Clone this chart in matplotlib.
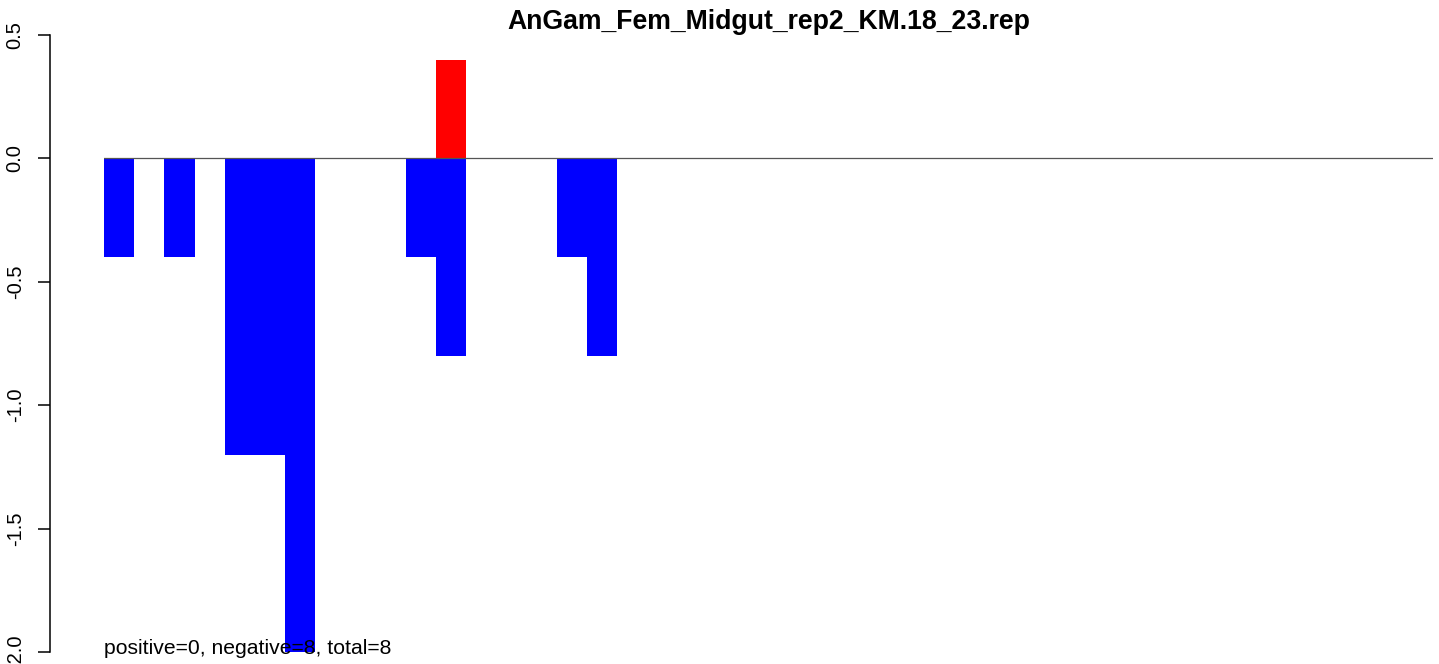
import numpy as np
import matplotlib
matplotlib.use('Agg')
import matplotlib.pyplot as plt

title = "AnGam_Fem_Midgut_rep2_KM.18_23.rep"
n_bins = 44
# bin index -> value (only non-zero bins listed)
neg_idx = [0, 2, 4, 5, 6, 10, 11, 15, 16]
neg_val = [-0.4, -0.4, -1.2, -1.2, -2.0, -0.4, -0.8, -0.4, -0.8]
pos_idx = [11]
pos_val = [0.4]
yticks = [-2.0, -1.5, -1.0, -0.5, 0.0, 0.5]
summary = "positive=0, negative=8, total=8"

neg = np.zeros(n_bins)
neg[neg_idx] = neg_val
pos = np.zeros(n_bins)
pos[pos_idx] = pos_val

plt.rcParams['font.family'] = ['Liberation Sans', 'DejaVu Sans']

fig = plt.figure(figsize=(14.39, 6.64), dpi=100)
ax = fig.add_axes([104 / 1439, 12 / 664, (1433 - 104) / 1439, (652 - 35) / 664])

x = np.arange(n_bins)
ax.bar(x, neg, width=1.0, align='edge', color='#0000ff', linewidth=0)
ax.bar(x, pos, width=1.0, align='edge', color='#ff0000', linewidth=0)
ax.axhline(0, color='#555555', linewidth=0.9)

ax.set_xlim(0, n_bins)
ax.set_ylim(-2.0, 0.5)
ax.set_yticks(yticks)
ax.set_yticklabels(["%.1f" % v for v in yticks])
ax.set_xticks([])

for s in ['top', 'right', 'bottom']:
    ax.spines[s].set_visible(False)
ax.spines['left'].set_position(('outward', 39))
ax.spines['left'].set_linewidth(1.1)
ax.tick_params(axis='y', length=8.6, width=1.1, pad=9.5, labelsize=14.5)
plt.setp(ax.get_yticklabels(), rotation=90, va='center')

ax.set_title(title, fontsize=19.2, fontweight='bold', pad=3)
ax.text(0, -2.008, summary, fontsize=15.2, ha='left', va='baseline', clip_on=False)

fig.savefig('out.png', dpi=100)
